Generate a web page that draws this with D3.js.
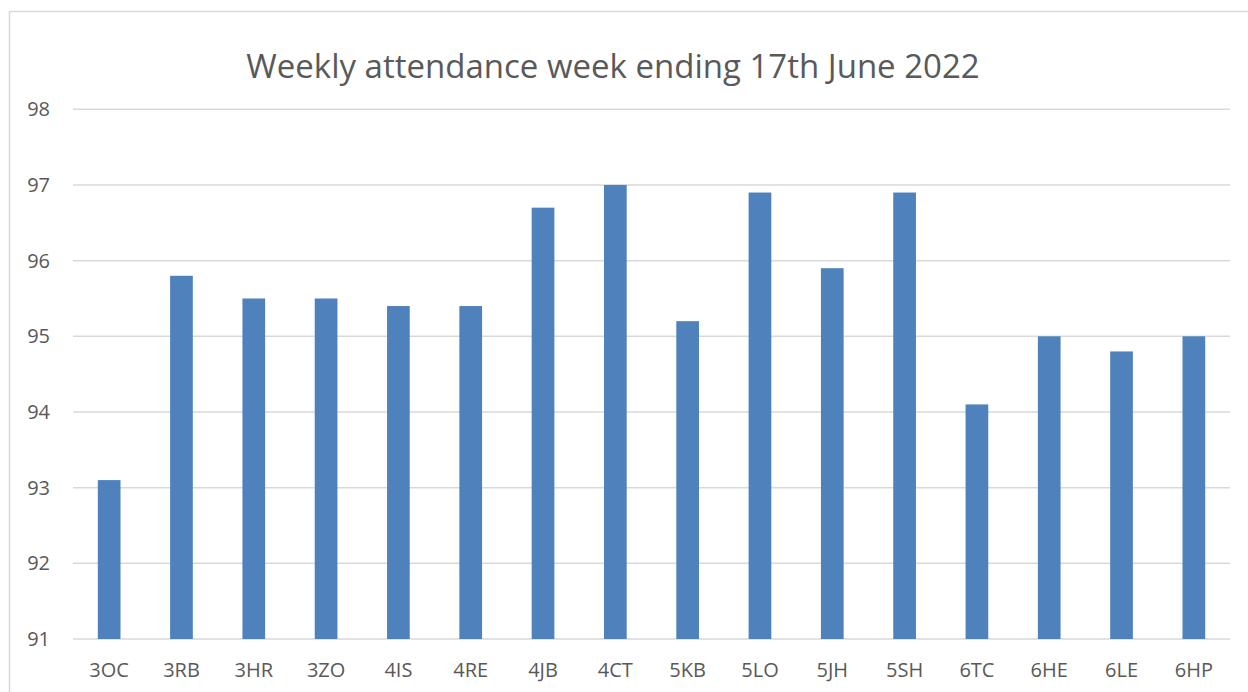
<!DOCTYPE html>
<html>
<head>
<meta charset="utf-8">
<script src="https://cdn.jsdelivr.net/npm/d3@7"></script>
<style>
  body { margin: 0; background: #fff; }
  svg { display: block; font-family: "Open Sans", sans-serif; }
</style>
</head>
<body>
<svg id="chart"></svg>
<script>
// Data
const classes = ["3OC", "3RB", "3HR", "3ZO", "4IS", "4RE", "4JB", "4CT",
                 "5KB", "5LO", "5JH", "5SH", "6TC", "6HE", "6LE", "6HP"];
const attendance = [93.1, 95.8, 95.5, 95.5, 95.4, 95.4, 96.7, 97.0,
                    95.2, 96.9, 95.9, 96.9, 94.1, 95.0, 94.8, 95.0];
const yTicks = [91, 92, 93, 94, 95, 96, 97, 98];
const title = "Weekly attendance week ending 17th June 2022";

const W = 1248, H = 692;
const margin = { top: 109.3, right: 18, bottom: 53, left: 73 };
const width = W - margin.left - margin.right;
const height = H - margin.top - margin.bottom;

const svg = d3.select("#chart").attr("width", W).attr("height", H);

// outer chart border (right and bottom edges fall outside the picture)
svg.append("rect")
  .attr("x", 9.5).attr("y", 11.5)
  .attr("width", W + 20).attr("height", H)
  .attr("fill", "none")
  .attr("stroke", "#d9d9d9")
  .attr("stroke-width", 1.5);

const g = svg.append("g")
  .attr("transform", `translate(${margin.left},${margin.top})`);

const x = d3.scaleBand()
  .domain(classes)
  .range([0, width])
  .paddingInner(0.686)
  .paddingOuter(0.343);

const y = d3.scaleLinear()
  .domain([91, 98])
  .range([height, 0]);

// gridlines
g.append("g")
  .selectAll("line")
  .data(yTicks)
  .join("line")
  .attr("x1", 0).attr("x2", width)
  .attr("y1", d => y(d)).attr("y2", d => y(d))
  .attr("stroke", "#d9d9d9")
  .attr("stroke-width", 1.5);

// bars
g.append("g")
  .selectAll("rect")
  .data(attendance)
  .join("rect")
  .attr("x", (d, i) => x(classes[i]))
  .attr("y", d => y(d))
  .attr("width", x.bandwidth())
  .attr("height", d => y(91) - y(d))
  .attr("fill", "#4f81bd");

// y axis labels
const yAxis = g.append("g")
  .call(d3.axisLeft(y).tickValues(yTicks).tickFormat(d3.format("d"))
    .tickSize(0).tickPadding(23));
yAxis.select(".domain").remove();
yAxis.selectAll("text")
  .attr("fill", "#595959")
  .style("font-size", "20px")
  .style("font-family", "'Open Sans', sans-serif");

// x axis labels
const xAxis = g.append("g")
  .attr("transform", `translate(0,${height})`)
  .call(d3.axisBottom(x).tickSize(0).tickPadding(24));
xAxis.select(".domain").remove();
xAxis.selectAll("text")
  .attr("fill", "#595959")
  .style("font-size", "20px")
  .style("font-family", "'Open Sans', sans-serif");

// title
svg.append("text")
  .attr("x", 613)
  .attr("y", 78)
  .attr("text-anchor", "middle")
  .attr("fill", "#595959")
  .style("font-size", "33px")
  .text(title);
</script>
</body>
</html>
